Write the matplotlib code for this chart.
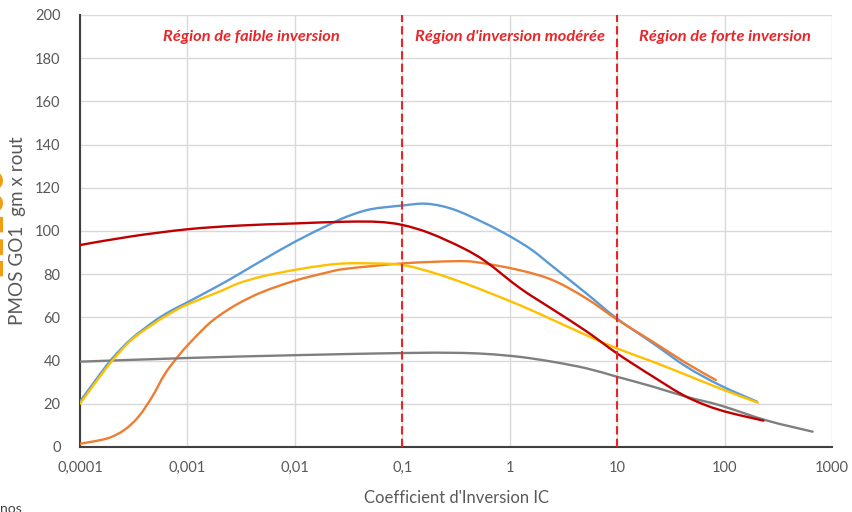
import matplotlib
matplotlib.use("Agg")
import numpy as np
from matplotlib import pyplot as plt
from matplotlib.path import Path
from matplotlib.patches import PathPatch

plt.rcParams['font.family'] = ['Lato', 'DejaVu Sans']

# gm x rout versus inversion coefficient, one curve per device length
ic_blue = [1e-4, 1.4e-4, 2e-4, 3e-4, 5e-4, 7e-4, 1e-3, 2e-3, 3e-3, 5e-3, 1e-2, 2e-2, 3e-2, 5e-2,
           0.1, 0.17, 0.3, 0.6, 1, 1.6, 2.55, 5.2, 10, 21.7, 44.4, 90.6, 200]
gain_blue = [21, 31, 41, 50, 58.5, 63, 67, 75, 80, 86.5, 95, 102.5, 106.5, 110,
             111.8, 112.6, 110, 103.4, 97.6, 91.3, 83.3, 71, 59.4, 47.9, 37.1, 28.6, 21]

ic_orange = [1e-4, 1.8e-4, 2.6e-4, 3.5e-4, 4.7e-4, 6.2e-4, 8.2e-4, 1e-3, 1.5e-3, 2e-3, 3e-3, 5e-3,
             1e-2, 2e-2, 3e-2, 0.1, 0.3, 0.5, 1.25, 2.55, 5.2, 10, 21.7, 44.4, 83]
gain_orange = [1.5, 4, 8, 14, 23.3, 34, 42, 47, 56, 61, 66.5, 71.8,
               77, 80.8, 82.5, 85, 86, 85.5, 81.8, 77.1, 68.7, 59, 48.6, 38.7, 31]

ic_gray = [1e-4, 1e-3, 1e-2, 0.1, 0.3, 0.6, 1.25, 2.55, 5.2, 10, 21.7, 44.4, 90.6, 250, 660]
gain_gray = [39.5, 41.2, 42.5, 43.5, 43.6, 43.1, 41.7, 39.4, 36.4, 32.5, 27.9, 23.2, 19.3, 12.2, 7.1]

ic_yellow = [1e-4, 1.4e-4, 2e-4, 3e-4, 5e-4, 7e-4, 1e-3, 2e-3, 3e-3, 5e-3, 1e-2, 2e-2, 3e-2, 5e-2,
             0.1, 0.2, 0.37, 0.6, 1.25, 2.55, 5.2, 10, 21.7, 44.4, 90.6, 204]
gain_yellow = [20, 30, 40, 49.5, 57.5, 62, 66, 72, 75.8, 79, 82, 84.3, 85, 85,
               84.3, 80.5, 76, 72, 65.6, 58.7, 51.7, 45.6, 39.4, 33.3, 27.1, 20.5]

ic_red = [1e-4, 3e-4, 1e-3, 3e-3, 1e-2, 3e-2, 6e-2, 0.1, 0.18, 0.37, 0.6, 1.25, 2.55,
          5.2, 10, 21.7, 44.4, 90.6, 230]
gain_red = [93.5, 97.5, 100.8, 102.5, 103.5, 104.3, 104.2, 102.8, 99, 92, 85.8, 73.5, 63.5,
            53.5, 43.3, 32.5, 23.2, 17.1, 12.2]

region_limits = [0.1, 10]
region_names = ["Région de faible inversion", "Région d'inversion modérée", "Région de forte inversion"]
region_x = [0.0039, 1, 100]

x_ticks = [1e-4, 1e-3, 1e-2, 1e-1, 1, 10, 100, 1000]
x_ticklabels = ["0,0001", "0,001", "0,01", "0,1", "1", "10", "100", "1000"]
y_ticks = list(range(0, 201, 20))


def smooth_path(ic, gain):
    # smoothed line through the points (Catmull-Rom as cubic Bezier, in log x)
    lx = np.log10(ic)
    y = np.asarray(gain, dtype=float)
    n = len(lx)
    verts = [(ic[0], y[0])]
    codes = [Path.MOVETO]
    for i in range(n - 1):
        i0, i2 = max(i - 1, 0), min(i + 2, n - 1)
        c1 = (lx[i] + (lx[i + 1] - lx[i0]) / 6, y[i] + (y[i + 1] - y[i0]) / 6)
        c2 = (lx[i + 1] - (lx[i2] - lx[i]) / 6, y[i + 1] - (y[i2] - y[i]) / 6)
        verts += [(10 ** c1[0], c1[1]), (10 ** c2[0], c2[1]), (ic[i + 1], y[i + 1])]
        codes += [Path.CURVE4] * 3
    return Path(verts, codes)


fig = plt.figure(figsize=(8.52, 5.12), dpi=100)
ax = fig.add_axes([80 / 852, 65 / 512, 752 / 852, 432 / 512])

series = [
    (ic_blue, gain_blue, '#5B9BD5'),
    (ic_orange, gain_orange, '#ED7D31'),
    (ic_gray, gain_gray, '#7F7F7F'),
    (ic_yellow, gain_yellow, '#FFC000'),
    (ic_red, gain_red, '#C00000'),
]
ax.set_xscale('log')
for ic, gain, color in series:
    ax.add_patch(PathPatch(smooth_path(ic, gain), facecolor='none', edgecolor=color,
                           lw=1.7, capstyle='round', zorder=3))

for xr in region_limits:
    ax.axvline(xr, color='#E8262A', lw=1.5, ls=(0, (4, 2)), zorder=4)

for name, xt in zip(region_names, region_x):
    ax.text(xt, 190, name, color='#E8262A', fontsize=11.8, fontweight='bold',
            fontstyle='italic', ha='center', va='center')

ax.set_xlim(1e-4, 1000)
ax.set_ylim(0, 200)
ax.set_xticks(x_ticks)
ax.set_xticklabels(x_ticklabels)
ax.xaxis.set_minor_locator(matplotlib.ticker.NullLocator())
ax.set_yticks(y_ticks)
ax.tick_params(length=0, labelsize=10.5, labelcolor='#595959')
ax.tick_params(axis='x', pad=10)
ax.tick_params(axis='y', pad=14)

ax.grid(True, color='#D9D9D9', lw=1)
ax.set_axisbelow(True)
for side in ['top', 'right']:
    ax.spines[side].set_visible(False)
for side in ['left', 'bottom']:
    ax.spines[side].set_color('#404040')
    ax.spines[side].set_linewidth(1.5)

ax.set_xlabel("Coefficient d'Inversion IC", fontsize=12, color='#595959', labelpad=11)
fig.text(18 / 852, 1 - 231 / 512, "PMOS GO1  gm x rout", rotation=90, fontsize=13.6,
         color='#595959', ha='center', va='center')

# fragments of the surrounding page
fig.text(7 / 852, 1 - 222 / 512, "11100", rotation=90, fontsize=28, fontweight='bold',
         color='#F39C12', ha='right', va='center')
fig.text(0, 1 - 503 / 512, "nos", fontsize=10, color='#404040', ha='left', va='top')

fig.savefig('out.png', dpi=100)
